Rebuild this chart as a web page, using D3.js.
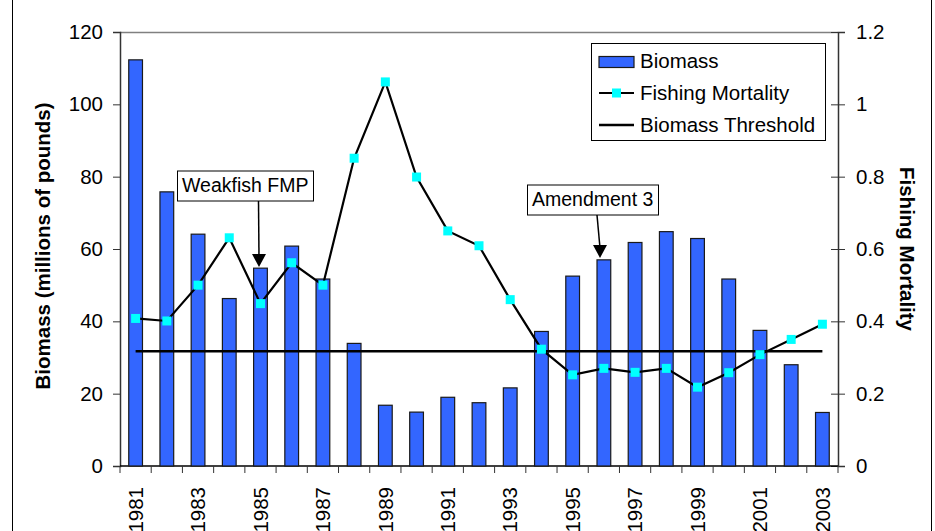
<!DOCTYPE html>
<html>
<head>
<meta charset="utf-8">
<script src="https://cdn.jsdelivr.net/npm/d3@7"></script>
<style>
  body { margin: 0; background: #fff; }
  text { font-family: Arial, 'Liberation Sans', sans-serif; }
</style>
</head>
<body>
<svg id="chart" width="935" height="531"></svg>
<script>
let years = d3.range(1981, 2004).map(String)
let biomass = [112.3, 75.8, 64.1, 46.3, 54.7, 60.8, 51.7, 33.9, 16.8, 14.9, 19.0, 17.5, 21.6, 37.2, 52.5, 57.0, 61.8, 64.8, 62.9, 51.7, 37.5, 28.0, 14.8]
let mortality = [0.408, 0.401, 0.50, 0.631, 0.449, 0.562, 0.50, 0.851, 1.062, 0.799, 0.650, 0.609, 0.46, 0.323, 0.252, 0.27, 0.259, 0.27, 0.218, 0.258, 0.308, 0.35, 0.392]
let threshold = 31.7
let leftTicks = [0, 20, 40, 60, 80, 100, 120]
let rightTicks = [0, 0.2, 0.4, 0.6, 0.8, 1, 1.2]
let legendItems = ['Biomass', 'Fishing Mortality', 'Biomass Threshold']
let notes = [
  { label: 'Weakfish FMP', year: '1985', value: 54.7 },
  { label: 'Amendment 3', year: '1996', value: 57.0 }
]

let margin = { top: 32, left: 120, right: 97, bottom: 65 }
let width = 935 - margin.left - margin.right
let height = 531 - margin.top - margin.bottom

let svg = d3.select('#chart')

// outer frame, only the sides show in the crop
svg.append('line').attr('x1', 12.5).attr('x2', 12.5).attr('y1', 0).attr('y2', 531).attr('stroke', '#000')
svg.append('line').attr('x1', 931.5).attr('x2', 931.5).attr('y1', 0).attr('y2', 531).attr('stroke', '#000')

let g = svg.append('g').attr('transform', `translate(${margin.left},${margin.top})`)

let x = d3.scaleBand().domain(years).range([0, width])
let yLeft = d3.scaleLinear().domain([0, 120]).range([height, 0])
let yRight = d3.scaleLinear().domain([0, 1.2]).range([height, 0])

let barWidth = x.bandwidth() * 0.44
let cx = d => x(d) + x.bandwidth() / 2

// plot area top border
g.append('line').attr('x1', 0).attr('x2', width).attr('y1', 0.5).attr('y2', 0.5).attr('stroke', '#808080').attr('stroke-width', 1.5)

// left axis
let leftAxis = g.append('g').call(d3.axisLeft(yLeft).tickValues(leftTicks).tickSize(7).tickPadding(10))
leftAxis.select('.domain').attr('stroke', '#333').attr('stroke-width', 1.5)
leftAxis.selectAll('.tick line').attr('stroke', '#333')
leftAxis.selectAll('text').attr('font-size', 20.5).attr('fill', '#000')

// right axis with crossing ticks
let rightAxis = g.append('g').attr('transform', `translate(${width},0)`)
  .call(d3.axisRight(yRight).tickValues(rightTicks).tickSize(7).tickPadding(11).tickFormat(d => String(d)))
rightAxis.select('.domain').attr('stroke', '#333').attr('stroke-width', 1.5)
rightAxis.selectAll('.tick line').attr('x1', -7).attr('stroke', '#333')
rightAxis.selectAll('text').attr('font-size', 20.5).attr('fill', '#000')

// bottom axis, ticks at band edges
let edges = years.map(d => x(d)).concat([width])
g.append('line').attr('x1', 0).attr('x2', width).attr('y1', height).attr('y2', height).attr('stroke', '#000').attr('stroke-width', 1.5)
g.selectAll('.x-tick')
  .data(edges)
  .enter()
  .append('line')
  .attr('x1', d => d)
  .attr('x2', d => d)
  .attr('y1', height)
  .attr('y2', height + 7)
  .attr('stroke', '#333')

g.selectAll('.year-label')
  .data(years.filter((d, i) => i % 2 === 0))
  .enter()
  .append('text')
  .text(d => d)
  .attr('font-size', 20.5)
  .attr('text-anchor', 'end')
  .attr('dy', '0.35em')
  .attr('transform', d => `translate(${cx(d)},${height + 21}) rotate(-90)`)

// bars
g.selectAll('.bar')
  .data(years)
  .enter()
  .append('rect')
  .attr('x', d => cx(d) - barWidth / 2)
  .attr('width', barWidth)
  .attr('y', (d, i) => yLeft(biomass[i]))
  .attr('height', (d, i) => height - yLeft(biomass[i]))
  .attr('fill', '#3366ff')
  .attr('stroke', '#1a1a1a')
  .attr('stroke-width', 1.2)

// threshold
g.append('line')
  .attr('x1', cx(years[0]))
  .attr('x2', cx(years[years.length - 1]))
  .attr('y1', yLeft(threshold))
  .attr('y2', yLeft(threshold))
  .attr('stroke', '#000')
  .attr('stroke-width', 2.5)

// mortality line
let line = d3.line()
  .x((d, i) => cx(years[i]))
  .y(d => yRight(d))

g.append('path')
  .datum(mortality)
  .attr('d', line)
  .attr('fill', 'none')
  .attr('stroke', '#000')
  .attr('stroke-width', 2.2)

g.selectAll('.marker')
  .data(mortality)
  .enter()
  .append('rect')
  .attr('x', (d, i) => cx(years[i]) - 4.5)
  .attr('y', d => yRight(d) - 4.5)
  .attr('width', 9)
  .attr('height', 9)
  .attr('fill', '#00ffff')

// annotations
let noteBoxes = [
  { x: 177.5, y: 171, w: 136, h: 30, tx: 182, ty: 192, ax1: 258.5, ay1: 201, ax2: 259, ay2: 267 },
  { x: 527.5, y: 185, w: 131, h: 30, tx: 532, ty: 206, ax1: 597, ay1: 215, ax2: 600, ay2: 258 }
]
notes.forEach((n, i) => {
  let b = noteBoxes[i]
  svg.append('rect')
    .attr('x', b.x).attr('y', b.y).attr('width', b.w).attr('height', b.h)
    .attr('fill', '#fff').attr('stroke', '#000').attr('stroke-width', 1)
  svg.append('text').text(n.label).attr('x', b.tx).attr('y', b.ty).attr('font-size', 19.5)
  svg.append('line')
    .attr('x1', b.ax1).attr('y1', b.ay1).attr('x2', b.ax2).attr('y2', b.ay2 - 10)
    .attr('stroke', '#000').attr('stroke-width', 1.5)
  svg.append('path')
    .attr('d', `M${b.ax2 - 7},${b.ay2 - 13} L${b.ax2 + 7},${b.ay2 - 13} L${b.ax2},${b.ay2} Z`)
    .attr('fill', '#000')
})

// axis titles
svg.append('text')
  .text('Biomass (millions of pounds)')
  .attr('font-size', 20.5)
  .attr('font-weight', 'bold')
  .attr('text-anchor', 'middle')
  .attr('transform', `translate(50,${margin.top + height / 2 - 3}) rotate(-90)`)

svg.append('text')
  .text('Fishing Mortality')
  .attr('font-size', 20.5)
  .attr('font-weight', 'bold')
  .attr('text-anchor', 'middle')
  .attr('transform', `translate(900,${margin.top + height / 2}) rotate(90)`)

// legend
let legend = svg.append('g').attr('transform', 'translate(591,43)')
legend.append('rect')
  .attr('x', 0.5).attr('y', 0.5).attr('width', 234).attr('height', 97)
  .attr('fill', '#fff').attr('stroke', '#000')

legend.selectAll('.legend-label')
  .data(legendItems)
  .enter()
  .append('text')
  .text(d => d)
  .attr('x', 49)
  .attr('y', (d, i) => 25 + i * 32)
  .attr('font-size', 20.5)

legend.append('rect')
  .attr('x', 8).attr('y', 13.5).attr('width', 35).attr('height', 11)
  .attr('fill', '#3366ff').attr('stroke', '#1a1a1a').attr('stroke-width', 1.2)
legend.append('line')
  .attr('x1', 8).attr('x2', 43).attr('y1', 50).attr('y2', 50)
  .attr('stroke', '#000').attr('stroke-width', 2.2)
legend.append('rect')
  .attr('x', 21).attr('y', 45.5).attr('width', 9).attr('height', 9)
  .attr('fill', '#00ffff')
legend.append('line')
  .attr('x1', 8).attr('x2', 43).attr('y1', 82).attr('y2', 82)
  .attr('stroke', '#000').attr('stroke-width', 2.5)
</script>
</body>
</html>
